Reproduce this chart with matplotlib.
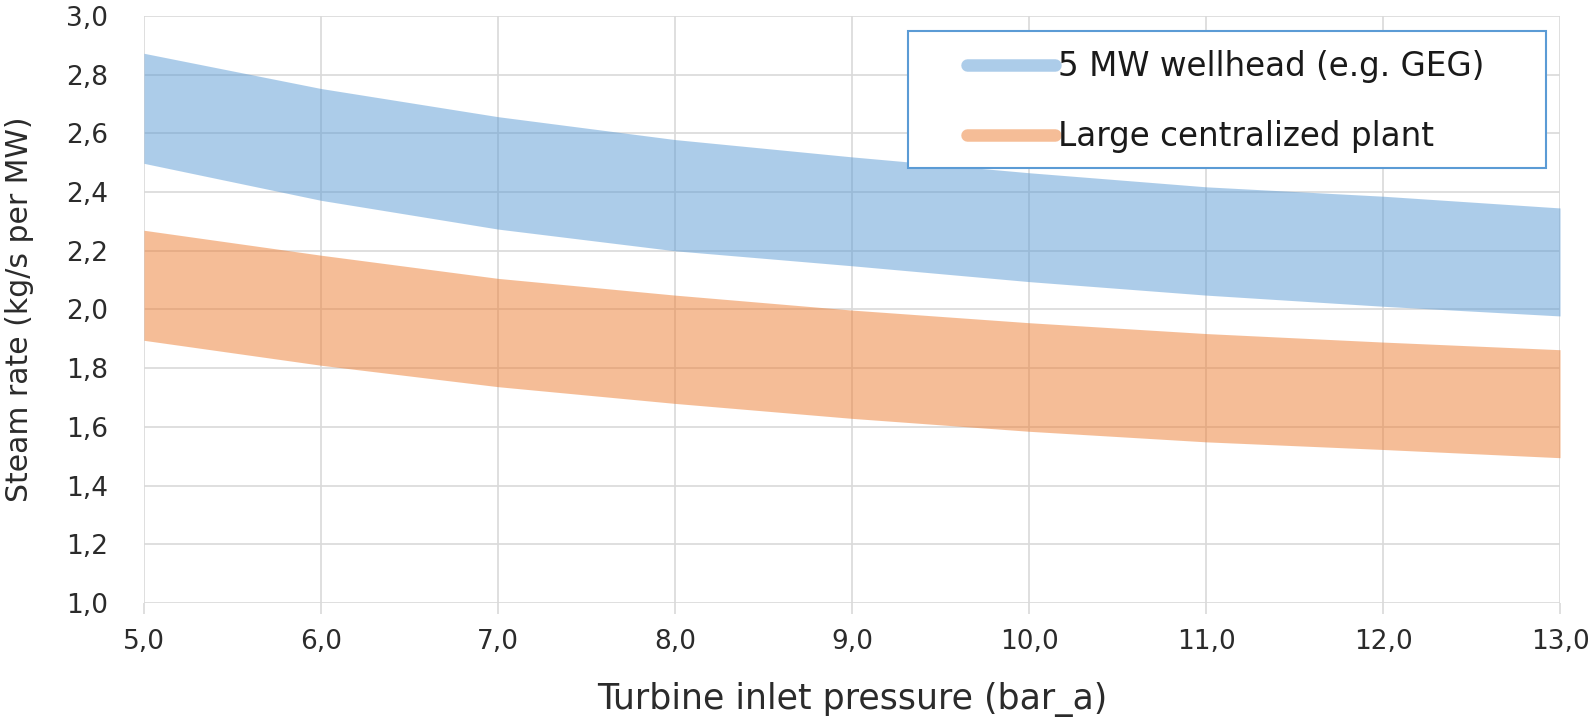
import matplotlib
matplotlib.use("Agg")
import matplotlib.pyplot as plt
from matplotlib.patches import Rectangle
from matplotlib.lines import Line2D

pressure = [5, 6, 7, 8, 9, 10, 11, 12, 13]
wellhead_upper = [2.873, 2.753, 2.657, 2.579, 2.520, 2.466, 2.418, 2.386, 2.346]
wellhead_lower = [2.498, 2.372, 2.274, 2.200, 2.149, 2.095, 2.049, 2.011, 1.978]
central_upper = [2.270, 2.185, 2.106, 2.049, 1.998, 1.955, 1.918, 1.889, 1.863]
central_lower = [1.895, 1.810, 1.737, 1.680, 1.629, 1.585, 1.549, 1.523, 1.495]
series_labels = ["5 MW wellhead (e.g. GEG)", "Large centralized plant"]
x_ticks = [5, 6, 7, 8, 9, 10, 11, 12, 13]
y_ticks = [1.0, 1.2, 1.4, 1.6, 1.8, 2.0, 2.2, 2.4, 2.6, 2.8, 3.0]

plt.rcParams['font.family'] = ['DejaVu Sans']

blue = '#5B9BD5'
orange = '#ED7D31'
grid_c = '#D9D9D9'
text_c = '#2b2b2b'

fig = plt.figure(figsize=(15.94, 7.18), dpi=100)
ax = fig.add_axes([0.0903, 0.1602, 0.8884, 0.8175])

ax.fill_between(pressure, wellhead_lower, wellhead_upper, color=blue, alpha=0.5, lw=0, zorder=3)
ax.fill_between(pressure, central_lower, central_upper, color=orange, alpha=0.5, lw=0, zorder=3)

ax.set_xlim(5, 13)
ax.set_ylim(1.0, 3.0)
ax.set_xticks(x_ticks)
ax.set_yticks(y_ticks)
ax.set_xticklabels([f"{v:.1f}".replace('.', ',') for v in x_ticks])
ax.set_yticklabels([f"{v:.1f}".replace('.', ',') for v in y_ticks])
ax.grid(True, color=grid_c, lw=1.2, zorder=1)
ax.set_axisbelow(True)
for s in ax.spines.values():
    s.set_visible(False)
ax.tick_params(axis='x', length=8, width=1.2, color=grid_c, pad=11, labelsize=19, labelcolor=text_c)
ax.tick_params(axis='y', length=0, pad=26, labelsize=19, labelcolor=text_c)

ax.set_xlabel("Turbine inlet pressure (bar_a)", fontsize=25, color=text_c, va='center')
ax.set_ylabel("Steam rate (kg/s per MW)", fontsize=21.5, color=text_c, va='center')
ax.xaxis.set_label_coords(0.5, 1 - (700 - 16) / 587)
ax.yaxis.set_label_coords((20 - 144) / 1416, 0.5)

# legend frame
ax.add_patch(Rectangle(((908 - 144) / 1416, 1 - (168 - 16) / 587), (1546 - 908) / 1416, (168 - 30.5) / 587,
                       transform=ax.transAxes, facecolor='white', edgecolor=blue, lw=1.5,
                       zorder=5, clip_on=False))
handles = [Line2D([], [], color=blue, alpha=0.5, lw=9, solid_capstyle='round'),
           Line2D([], [], color=orange, alpha=0.5, lw=9, solid_capstyle='round')]
leg = ax.legend(handles, series_labels, loc='center left', bbox_to_anchor=(0.581, 0.854),
                frameon=False, fontsize=23.5, handlelength=2.7, handletextpad=0.1,
                labelspacing=1.15, borderpad=0, borderaxespad=0)
leg.set_zorder(6)
for t in leg.get_texts():
    t.set_color('#1a1a1a')

fig.savefig("out.png", dpi=100)
